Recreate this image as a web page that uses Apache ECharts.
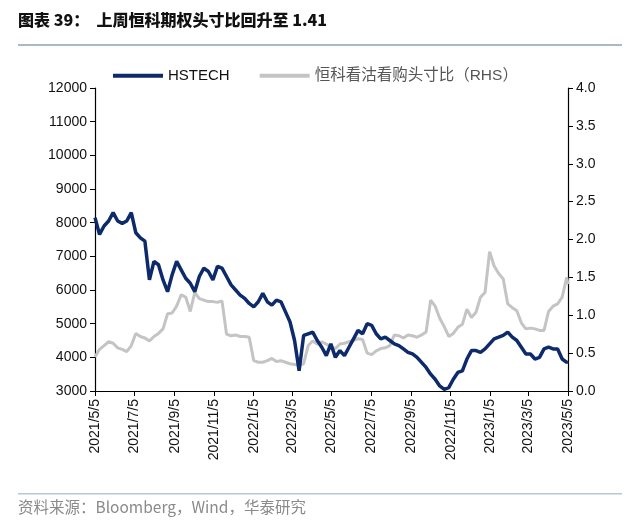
<!DOCTYPE html>
<html><head><meta charset="utf-8">
<script src="https://cdn.jsdelivr.net/npm/echarts@6/dist/echarts.min.js"></script>
<style>html,body{margin:0;padding:0;background:#fff}#c{width:640px;height:528px}</style>
</head><body><div id="c"></div>
<script>
// weekly observations starting 2021/5/5 (Wednesdays), final point 2023/5/5
const startDate = '2021-05-05';
const endDate = '2023-05-05';
const tickDates = ['2021-05-05','2021-07-05','2021-09-05','2021-11-05','2022-01-05','2022-03-05','2022-05-05','2022-07-05','2022-09-05','2022-11-05','2023-01-05','2023-03-05','2023-05-05'];

const hstech = [8150,7650,7900,8050,8300,8050,7980,8050,8300,7700,
7550,7450,6300,6850,6750,6300,5950,6450,6850,6600,
6350,6200,5950,6400,6650,6550,6300,6700,6650,6400,
6150,6000,5850,5750,5600,5500,5650,5900,5650,5550,
5700,5650,5350,5050,4500,3600,4650,4700,4750,4500,
4300,4050,4400,4000,4200,4050,4300,4550,4800,4700,
5000,4950,4700,4550,4600,4500,4400,4350,4250,4150,
4100,4000,3850,3700,3500,3350,3150,3050,3100,3350,
3550,3600,3950,4200,4200,4150,4250,4400,4550,4600,
4650,4750,4600,4500,4300,4100,4100,3950,4000,4250,
4300,4250,4250,3950,3850,3880];

const ratio = [0.45,0.55,0.60,0.65,0.63,0.57,0.55,0.52,0.60,0.76,
0.72,0.70,0.66,0.72,0.76,0.82,1.02,1.03,1.12,1.27,
1.24,1.05,1.30,1.22,1.20,1.18,1.18,1.17,1.19,0.75,
0.73,0.74,0.72,0.72,0.71,0.40,0.38,0.38,0.40,0.43,
0.39,0.40,0.38,0.36,0.35,0.34,0.36,0.60,0.66,0.62,
0.65,0.62,0.58,0.56,0.62,0.63,0.65,0.67,0.69,0.68,
0.50,0.48,0.53,0.56,0.57,0.60,0.74,0.73,0.70,0.74,
0.73,0.71,0.74,0.78,1.20,1.12,0.96,0.85,0.72,0.76,
0.84,0.88,1.08,0.97,1.04,1.24,1.30,1.84,1.65,1.55,
1.48,1.15,1.10,1.06,0.90,0.82,0.83,0.82,0.80,0.80,
1.05,1.12,1.15,1.24,1.50,1.41];

function ts(s){const p=s.split('-').map(Number);return Date.UTC(p[0],p[1]-1,p[2]);}
const DAY=86400000;
const dates=[];
for(let i=0;i<hstech.length-1;i++){dates.push(ts(startDate)+i*7*DAY);}
dates.push(ts(endDate));

function fmt(v){const d=new Date(v);return d.getUTCFullYear()+'/'+(d.getUTCMonth()+1)+'/'+d.getUTCDate();}
const tickVals = tickDates.map(ts);

const font = 'Arial, "Liberation Sans", "Noto Sans CJK SC", sans-serif';
const chart = echarts.init(document.getElementById('c'), null, {renderer:'canvas'});
chart.setOption({
  animation:false,
  backgroundColor:'#fff',
  graphic:[
    {type:'text',left:18,top:12,style:{text:'图表 39：  上周恒科期权头寸比回升至 1.41',font:'900 16px "Noto Sans CJK SC", sans-serif',fill:'#111'}},
    {type:'rect',shape:{x:18,y:44,width:604,height:2},style:{fill:'#a9b9cc'}},
    {type:'rect',shape:{x:18,y:493,width:604,height:1.5},style:{fill:'#b8c6d6'}},
    {type:'text',left:18,top:499,style:{text:'资料来源：Bloomberg，Wind，华泰研究',font:'15.5px "Noto Sans CJK SC", sans-serif',fill:'#8a8a8a'}}
  ],
  legend:{
    top:63,left:108,itemWidth:50,itemHeight:4,itemGap:30,icon:'rect',
    textStyle:{fontFamily:font,fontSize:15,color:'#111'},
    data:[{name:'HSTECH',itemStyle:{color:'#0d2a6b'}},{name:'恒科看沽看购头寸比（RHS）',itemStyle:{color:'#c4c4c4'},textStyle:{color:'#555',fontSize:15.5}}]
  },
  grid:{left:95,right:72,top:88,bottom:137,containLabel:false},
  xAxis:{
    type:'value',min:ts(startDate),max:ts(endDate),
    splitLine:{show:false},
    axisLine:{lineStyle:{color:'#000',width:1.2}},
    axisTick:{show:true,length:5,lineStyle:{color:'#000'},customValues:tickVals},
    axisLabel:{rotate:90,margin:8,fontFamily:font,fontSize:14,color:'#111',customValues:tickVals,formatter:fmt}
  },
  yAxis:[
    {type:'value',min:3000,max:12000,interval:1000,position:'left',
     splitLine:{show:false},
     axisLine:{show:true,lineStyle:{color:'#000',width:1.2}},
     axisTick:{show:true,length:5,lineStyle:{color:'#000'}},
     axisLabel:{fontFamily:font,fontSize:14,color:'#111',margin:8,formatter:v=>String(v)}},
    {type:'value',min:0,max:4,interval:0.5,position:'right',
     splitLine:{show:false},
     axisLine:{show:true,lineStyle:{color:'#000',width:1.2}},
     axisTick:{show:true,length:5,lineStyle:{color:'#000'}},
     axisLabel:{fontFamily:font,fontSize:14,color:'#111',margin:8,formatter:v=>v.toFixed(1)}}
  ],
  series:[
    {name:'恒科看沽看购头寸比（RHS）',type:'line',yAxisIndex:1,showSymbol:false,
     data:dates.map((d,i)=>[d,ratio[i]]),lineStyle:{color:'#c4c4c4',width:3},itemStyle:{color:'#c4c4c4'},z:2},
    {name:'HSTECH',type:'line',yAxisIndex:0,showSymbol:false,
     data:dates.map((d,i)=>[d,hstech[i]]),lineStyle:{color:'#0d2a6b',width:3.5},itemStyle:{color:'#0d2a6b'},z:3}
  ]
});
</script></body></html>
